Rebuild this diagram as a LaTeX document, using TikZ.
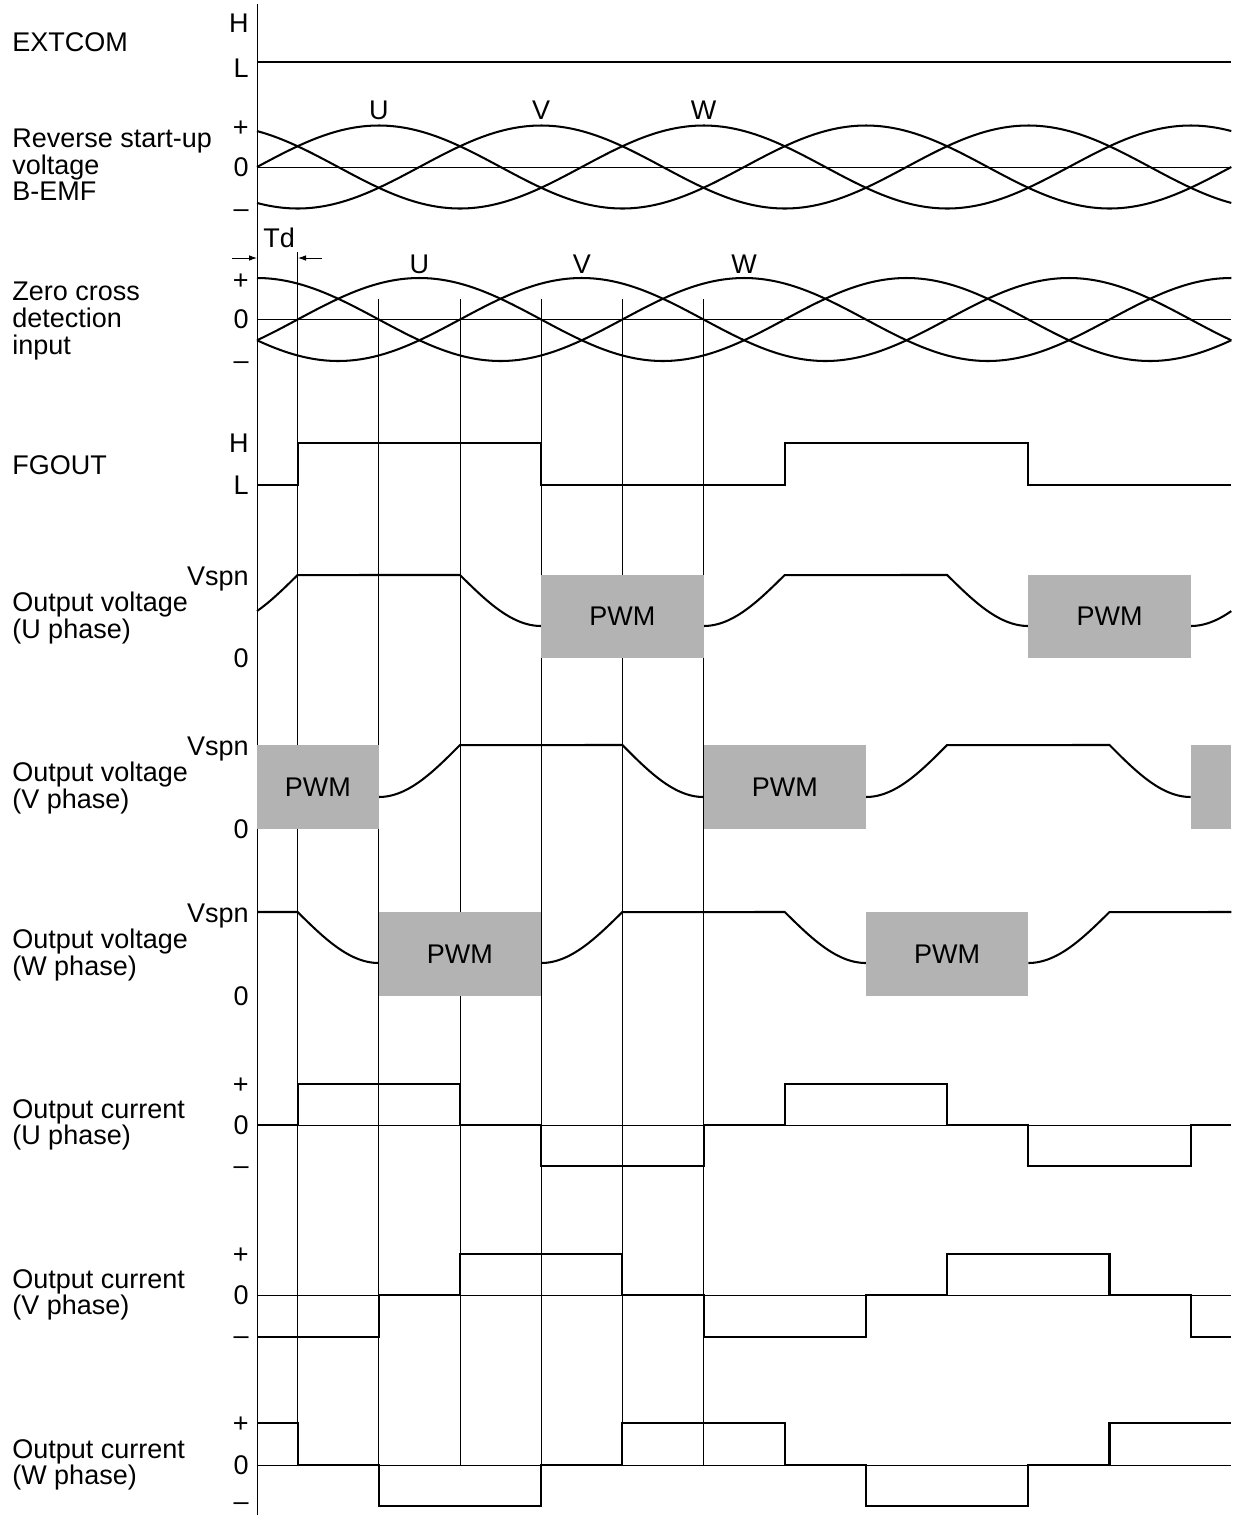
\documentclass[tikz,border=0pt]{standalone}
\usepackage{fontspec}
\setmainfont{Liberation Sans}
\usepackage{tikz}
\usetikzlibrary{arrows.meta}
\definecolor{pwmgray}{RGB}{179,179,179}

\begin{document}
\begin{tikzpicture}[x=0.025cm,y=-0.025cm,
    font=\fontsize{19.2}{18.85}\selectfont,
    wave/.style={line width=1.45pt},
    thinline/.style={line width=0.65pt},
    tdarrow/.style={thinline,-{Latex[length=0.2cm,width=0.14cm]}},
    sig/.style={anchor=west,align=left,inner sep=0pt},
    lvl/.style={anchor=east,inner sep=0pt,text height=0.483cm,text depth=0pt},
    tag/.style={inner sep=0pt,text height=0.483cm,text depth=0pt}]
\useasboundingbox (0,0) rectangle (1236,1515);

% signal names
\node[sig] (extcom) at (12,42) {EXTCOM};
\node[sig] (bemf) at (12,165) {Reverse start-up\\voltage\\B-EMF};
\node[sig] (zcross) at (12,321) {Zero cross\\detection\\input};
\node[sig] (fgout) at (12,465) {FGOUT};
\node[sig] (voutU) at (12,618) {Output voltage\\(U phase)};
\node[sig] (voutV) at (12,788) {Output voltage\\(V phase)};
\node[sig] (voutW) at (12,955) {Output voltage\\(W phase)};
\node[sig] (ioutU) at (12,1125) {Output current\\(U phase)};
\node[sig] (ioutV) at (12,1295) {Output current\\(V phase)};
\node[sig] (ioutW) at (12,1465) {Output current\\(W phase)};

% levels
\node[lvl] (extH) at (249,23) {H};
\node[lvl] (extL) at (249,68) {L};
\node[lvl] (bemfP) at (249,127) {+};
\node[lvl] (bemfZ) at (249,167) {0};
\node[lvl] (bemfM) at (249,208) {\textendash};
\node[lvl] (zcP) at (249,280) {+};
\node[lvl] (zcZ) at (249,319) {0};
\node[lvl] (zcM) at (249,360) {\textendash};
\node[lvl] (fgH) at (249,443) {H};
\node[lvl] (fgL) at (249,485) {L};
\node[lvl] (vuS) at (249,576) {Vspn};
\node[lvl] (vuZ) at (249,658) {0};
\node[lvl] (vvS) at (249,746) {Vspn};
\node[lvl] (vvZ) at (249,829) {0};
\node[lvl] (vwS) at (249,913) {Vspn};
\node[lvl] (vwZ) at (249,996) {0};
\node[lvl] (iuP) at (249,1084) {+};
\node[lvl] (iuZ) at (249,1125) {0};
\node[lvl] (iuM) at (249,1165) {\textendash};
\node[lvl] (ivP) at (249,1254) {+};
\node[lvl] (ivZ) at (249,1295) {0};
\node[lvl] (ivM) at (249,1335) {\textendash};
\node[lvl] (iwP) at (249,1423) {+};
\node[lvl] (iwZ) at (249,1465) {0};
\node[lvl] (iwM) at (249,1501) {\textendash};

% Td
\node[tag,anchor=west] (td) at (263,238) {Td};
\coordinate (tdA) at (232,258);
\coordinate (tdB) at (257,258);
\coordinate (tdC) at (322,258);
\coordinate (tdD) at (298,258);
\draw[tdarrow] (tdA) -- (tdB);
\draw[tdarrow] (tdC) -- (tdD);

\begin{scope}[shift={(257,0)},x=2.02925cm]
\draw[thinline] (0,4) -- (0,1515);
\draw[thinline] (0.5,252) -- (0.5,1465);
\draw[thinline] (1.5,299) -- (1.5,1465);
\draw[thinline] (2.5,299) -- (2.5,1465);
\draw[thinline] (3.5,299) -- (3.5,1465);
\draw[thinline] (4.5,299) -- (4.5,1465);
\draw[thinline] (5.5,299) -- (5.5,1465);
\draw[thinline] (0,167) -- (12,167);
\draw[thinline] (0,319.5) -- (12,319.5);
\draw[thinline] (0,1125) -- (12,1125);
\draw[thinline] (0,1295) -- (12,1295);
\draw[thinline] (0,1465) -- (12,1465);

% EXTCOM
\draw[wave] (0,62) -- (12,62);

% B-EMF
\draw[wave] plot[domain=0:12,samples=160,smooth] (\x,{167-41.5*sin(60*\x)});
\draw[wave] plot[domain=0:12,samples=160,smooth] (\x,{167-41.5*sin(60*(\x-2))});
\draw[wave] plot[domain=0:12,samples=160,smooth] (\x,{167-41.5*sin(60*(\x-4))});
\node[tag] (bemfU) at (1.5,110) {U};
\node[tag] (bemfV) at (3.5,110) {V};
\node[tag] (bemfW) at (5.5,110) {W};

% zero cross
\draw[wave] plot[domain=0:12,samples=160,smooth] (\x,{319.5-41.5*sin(60*(\x-0.5))});
\draw[wave] plot[domain=0:12,samples=160,smooth] (\x,{319.5-41.5*sin(60*(\x-2.5))});
\draw[wave] plot[domain=0:12,samples=160,smooth] (\x,{319.5-41.5*sin(60*(\x-4.5))});
\node[tag] (zcU) at (2,264) {U};
\node[tag] (zcV) at (4,264) {V};
\node[tag] (zcW) at (6,264) {W};

% FGOUT
\draw[wave] (0,485) -- (0.5,485) -- (0.5,443) -- (3.5,443) -- (3.5,485) -- (6.5,485)
  -- (6.5,443) -- (9.5,443) -- (9.5,485) -- (12,485);

% output voltage U
\draw[wave] plot[domain=0:0.5,samples=20,smooth] (\x,{575+51*cos(90*(\x+0.5))}) -- (2.5,575)
  -- plot[domain=2.5:3.5,samples=30,smooth] (\x,{575+51*sin(90*(\x-2.5))});
\draw[wave] plot[domain=5.5:6.5,samples=30,smooth] (\x,{575+51*cos(90*(\x-5.5))}) -- (8.5,575)
  -- plot[domain=8.5:9.5,samples=30,smooth] (\x,{575+51*sin(90*(\x-8.5))});
\draw[wave] plot[domain=11.5:12,samples=20,smooth] (\x,{575+51*cos(90*(\x-11.5))});
\fill[pwmgray] (3.5,575) rectangle (5.5,658);
\fill[pwmgray] (9.5,575) rectangle (11.5,658);
\node (pwmU1) at (4.5,616.5) {PWM};
\node (pwmU2) at (10.5,616.5) {PWM};

% output voltage V
\draw[wave] plot[domain=1.5:2.5,samples=30,smooth] (\x,{745+52*cos(90*(\x-1.5))}) -- (4.5,745)
  -- plot[domain=4.5:5.5,samples=30,smooth] (\x,{745+52*sin(90*(\x-4.5))});
\draw[wave] plot[domain=7.5:8.5,samples=30,smooth] (\x,{745+52*cos(90*(\x-7.5))}) -- (10.5,745)
  -- plot[domain=10.5:11.5,samples=30,smooth] (\x,{745+52*sin(90*(\x-10.5))});
\fill[pwmgray] (0,745) rectangle (1.5,829);
\fill[pwmgray] (5.5,745) rectangle (7.5,829);
\fill[pwmgray] (11.5,745) rectangle (12,829);
\node (pwmV1) at (0.75,787) {PWM};
\node (pwmV2) at (6.5,787) {PWM};

% output voltage W
\draw[wave] (0,912) -- (0.5,912)
  -- plot[domain=0.5:1.5,samples=30,smooth] (\x,{912+51*sin(90*(\x-0.5))});
\draw[wave] plot[domain=3.5:4.5,samples=30,smooth] (\x,{912+51*cos(90*(\x-3.5))}) -- (6.5,912)
  -- plot[domain=6.5:7.5,samples=30,smooth] (\x,{912+51*sin(90*(\x-6.5))});
\draw[wave] plot[domain=9.5:10.5,samples=30,smooth] (\x,{912+51*cos(90*(\x-9.5))}) -- (12,912);
\fill[pwmgray] (1.5,912) rectangle (3.5,996);
\fill[pwmgray] (7.5,912) rectangle (9.5,996);
\node (pwmW1) at (2.5,954) {PWM};
\node (pwmW2) at (8.5,954) {PWM};

% output current U
\draw[wave] (0,1125) -- (0.5,1125) -- (0.5,1084) -- (2.5,1084) -- (2.5,1125) -- (3.5,1125)
  -- (3.5,1166) -- (5.5,1166) -- (5.5,1125) -- (6.5,1125) -- (6.5,1084) -- (8.5,1084)
  -- (8.5,1125) -- (9.5,1125) -- (9.5,1166) -- (11.5,1166) -- (11.5,1125) -- (12,1125);

% output current V
\draw[wave] (0,1337) -- (1.5,1337) -- (1.5,1295) -- (2.5,1295) -- (2.5,1254) -- (4.5,1254)
  -- (4.5,1295) -- (5.5,1295) -- (5.5,1337) -- (7.5,1337) -- (7.5,1295) -- (8.5,1295)
  -- (8.5,1254) -- (10.5,1254) -- (10.5,1295) -- (11.5,1295) -- (11.5,1337) -- (12,1337);

% output current W
\draw[wave] (0,1423) -- (0.5,1423) -- (0.5,1465) -- (1.5,1465) -- (1.5,1506) -- (3.5,1506)
  -- (3.5,1465) -- (4.5,1465) -- (4.5,1423) -- (6.5,1423) -- (6.5,1465) -- (7.5,1465)
  -- (7.5,1506) -- (9.5,1506) -- (9.5,1465) -- (10.5,1465) -- (10.5,1423) -- (12,1423);
\end{scope}
\end{tikzpicture}
\end{document}
